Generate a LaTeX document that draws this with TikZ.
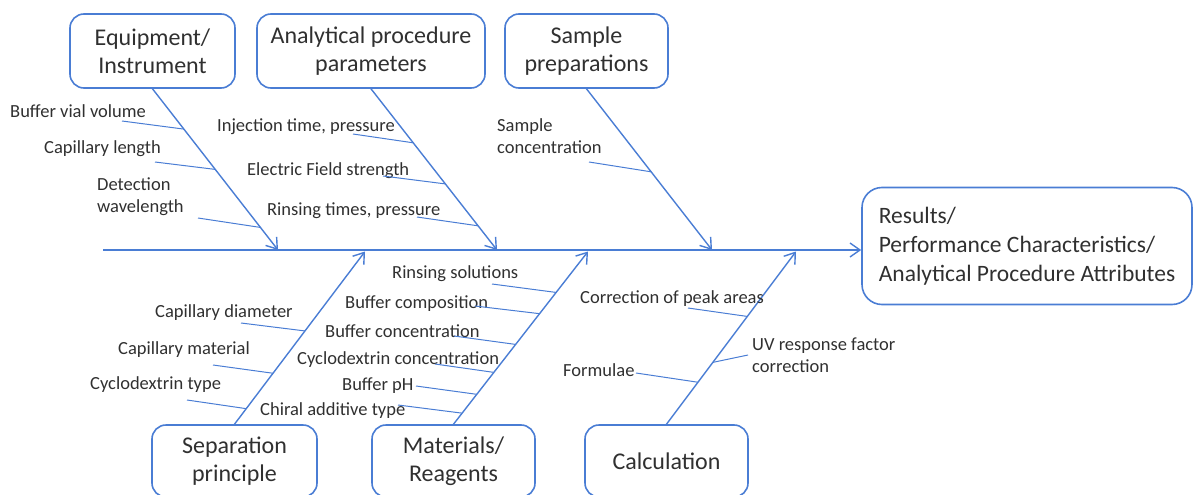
\documentclass[tikz,border=0pt]{standalone}
\usepackage{fontspec}
\setmainfont{Carlito}
\usetikzlibrary{arrows.meta, calc}
\definecolor{fishblue}{HTML}{4A7DD4}
\definecolor{inkgray}{HTML}{303030}
\tikzset{
  cat/.style={draw=fishblue, line width=1.6pt, rounded corners=14pt, minimum height=74pt, align=center, text=inkgray, font=\fontsize{24}{28}\selectfont},
  lbl/.style={inner sep=0pt, text=inkgray, font=\fontsize{18.5}{22}\selectfont, align=left},
  bone/.style={draw=fishblue, line width=1.4pt, -{Straight Barb[length=10pt,width=14pt]}},
  twig/.style={draw=fishblue, line width=1pt},
}

\begin{document}
\begin{tikzpicture}[x=1pt, y=-1pt]
  \useasboundingbox (0,0) rectangle (1194,495);
  % category boxes
  \node[cat, minimum width=165pt] (eq) at (152.5,51) {Equipment/\\Instrument};
  \node[cat, minimum width=228pt] (ap) at (371,51) {Analytical procedure\\parameters};
  \node[cat, minimum width=163pt] (sp) at (586.5,51) {Sample\\preparations};
  \node[cat, minimum width=165pt, minimum height=72pt] (sep) at (234.5,461) {Separation\\principle};
  \node[cat, minimum width=163pt, minimum height=72pt] (mat) at (453.5,461) {Materials/\\Reagents};
  \node[cat, minimum width=163pt, minimum height=72pt] (calc) at (666.5,461) {Calculation};
  \node[cat, minimum width=330pt, minimum height=117pt, rounded corners=20pt, align=left, font=\fontsize{23.5}{29}\selectfont] (res) at (1027,246)
    {Results/\\Performance Characteristics/\\Analytical Procedure Attributes};

  % spine and main bones
  \coordinate (tail) at (103,250);
  \draw[bone] (tail) -- (tail -| res.west);
  \coordinate (eqtip) at (278,250);
  \coordinate (aptip) at (497,250);
  \coordinate (sptip) at (712,250);
  \coordinate (septip) at (365,251.5);
  \coordinate (mattip) at (588,251.5);
  \coordinate (calctip) at (796,251.5);
  \draw[bone] (eq.south) -- (eqtip);
  \draw[bone] (ap.south) -- (aptip);
  \draw[bone] (sp.south) -- (sptip);
  \draw[bone] (sep.north) -- (septip);
  \draw[bone] (mat.north) -- (mattip);
  \draw[bone] (calc.north) -- (calctip);

  % equipment
  \node[lbl, anchor=base west] (bvv) at (10,117) {Buffer vial volume};
  \node[lbl, anchor=base west] (cl) at (44,153) {Capillary length};
  \node[lbl, anchor=west] (dw) at (97,197) {Detection\\wavelength};
  \draw[twig] (122,121) coordinate (w1) -- ($(eq.south)!.25!(eqtip)$);
  \draw[twig] (155,162) coordinate (w2) -- ($(eq.south)!.5!(eqtip)$);
  \draw[twig] (198,218) coordinate (w3) -- ($(eq.south)!.86!(eqtip)$);

  % procedure parameters
  \node[lbl, anchor=base west] (itp) at (217,131) {Injection time, pressure};
  \node[lbl, anchor=base west] (efs) at (247,175) {Electric Field strength};
  \node[lbl, anchor=base west] (rtp) at (267,215) {Rinsing times, pressure};
  \draw[twig] (353,134) coordinate (w4) -- ($(ap.south)!.335!(aptip)$);
  \draw[twig] (383,176) coordinate (w5) -- ($(ap.south)!.59!(aptip)$);
  \draw[twig] (417,217) coordinate (w6) -- ($(ap.south)!.85!(aptip)$);

  % sample
  \node[lbl, anchor=west] (sc) at (497,136) {Sample\\concentration};
  \draw[twig] (589,162) coordinate (w7) -- ($(sp.south)!.515!(sptip)$);

  % separation principle
  \node[lbl, anchor=base west] (cd) at (155,317) {Capillary diameter};
  \node[lbl, anchor=base west] (cm) at (118,354) {Capillary material};
  \node[lbl, anchor=base west] (ct) at (90,389) {Cyclodextrin type};
  \draw[twig] (241,323) coordinate (w8) -- ($(sep.north)!.54!(septip)$);
  \draw[twig] (213,365) coordinate (w9) -- ($(sep.north)!.295!(septip)$);
  \draw[twig] (187,400) coordinate (w10) -- ($(sep.north)!.09!(septip)$);

  % materials
  \node[lbl, anchor=base west] (rs) at (392,278) {Rinsing solutions};
  \node[lbl, anchor=base west] (bc) at (345,308) {Buffer composition};
  \node[lbl, anchor=base west] (bco) at (325,337) {Buffer concentration};
  \node[lbl, anchor=base west] (cc) at (297,364) {Cyclodextrin concentration};
  \node[lbl, anchor=base west] (ph) at (342,390) {Buffer pH};
  \node[lbl, anchor=base west] (cat) at (260,415) {Chiral additive type};
  \draw[twig] (492,284) coordinate (w11) -- ($(mat.north)!.763!(mattip)$);
  \draw[twig] (475,306) coordinate (w12) -- ($(mat.north)!.64!(mattip)$);
  \draw[twig] (454,336) coordinate (w13) -- ($(mat.north)!.462!(mattip)$);
  \draw[twig] (435,364) coordinate (w14) -- ($(mat.north)!.30!(mattip)$);
  \draw[twig] (416,386) coordinate (w15) -- ($(mat.north)!.173!(mattip)$);
  \draw[twig] (398,405) coordinate (w16) -- ($(mat.north)!.064!(mattip)$);

  % calculation
  \node[lbl, anchor=base west] (cpa) at (580,303) {Correction of peak areas};
  \node[lbl, anchor=west] (uv) at (752,355) {UV response factor\\correction};
  \node[lbl, anchor=base west] (fm) at (563,376) {Formulae};
  \draw[twig] (688,308) coordinate (w17) -- ($(calc.north)!.624!(calctip)$);
  \draw[twig] (748,355) coordinate (w18) -- ($(calc.north)!.358!(calctip)$);
  \draw[twig] (636,373) coordinate (w19) -- ($(calc.north)!.243!(calctip)$);
\end{tikzpicture}
\end{document}
